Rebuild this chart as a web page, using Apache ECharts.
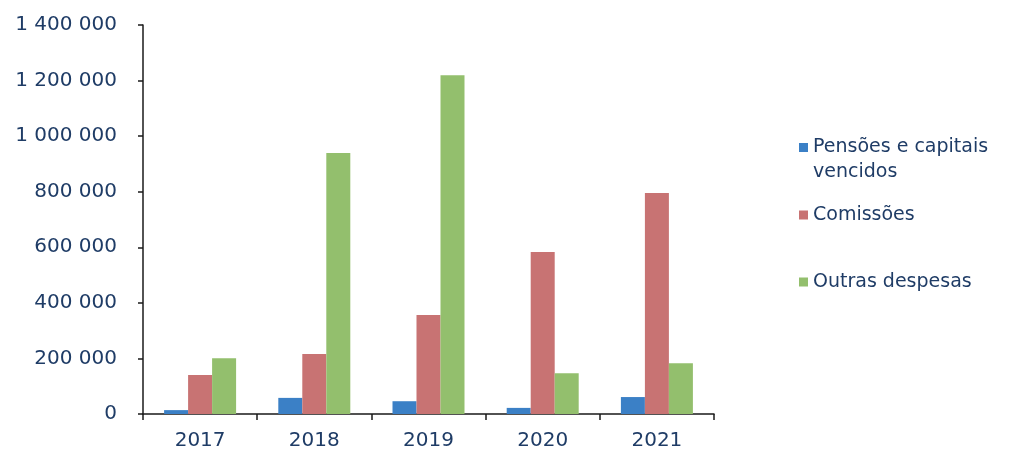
<!DOCTYPE html>
<html>
<head>
<meta charset="utf-8">
<script src="https://cdn.jsdelivr.net/npm/echarts@6/dist/echarts.min.js"></script>
<style>
  html, body { margin: 0; padding: 0; background: #fff; }
  #chart { width: 1013px; height: 453px; }
</style>
</head>
<body>
<div id="chart"></div>
<script>
// Annual expenses by type (EUR)
const years = ['2017', '2018', '2019', '2020', '2021'];
const pensoes = [14000, 58000, 46000, 22000, 61000];
const comissoes = [140000, 216000, 356000, 583000, 795000];
const outras = [201000, 939000, 1219000, 147000, 183000];

const seriesNames = ['Pensões e capitais vencidos', 'Comissões', 'Outras despesas'];
// A leading blank line keeps the marker level with the first text line
const legendLabels = ['\u00a0\nPensões e capitais\nvencidos', 'Comissões', 'Outras despesas'];
const colors = ['#3b80c6', '#c87373', '#93bf6d'];

const labelColor = '#1f3c66';
const fontFamily = '"DejaVu Sans", "Liberation Sans", Arial, sans-serif';

function spaced(v) {
  return String(v).replace(/\B(?=(\d{3})+(?!\d))/g, ' ');
}

const chart = echarts.init(document.getElementById('chart'));

const legendTops = [105, 197.5, 264.5];

chart.setOption({
  animation: false,
  color: colors,
  grid: { left: 143, right: 299, top: 25, bottom: 39 },
  legend: seriesNames.map((name, i) => ({
    data: [name],
    left: 794,
    top: legendTops[i],
    orient: 'vertical',
    icon: 'rect',
    itemWidth: 9,
    itemHeight: 9,
    formatter: () => legendLabels[i],
    textStyle: {
      color: labelColor,
      fontSize: 19,
      fontFamily: fontFamily,
      lineHeight: 25
    }
  })),
  xAxis: {
    type: 'category',
    data: years,
    axisLine: { lineStyle: { color: '#1a1a1a', width: 1.5 } },
    axisTick: { show: true, length: 6, lineStyle: { color: '#1a1a1a', width: 1.5 } },
    axisLabel: { color: labelColor, fontSize: 20, fontFamily: fontFamily, margin: 17 }
  },
  yAxis: {
    type: 'value',
    min: 0,
    max: 1400000,
    interval: 200000,
    axisLine: { show: true, lineStyle: { color: '#1a1a1a', width: 1.5 } },
    axisTick: { show: true, length: 5, lineStyle: { color: '#1a1a1a', width: 1.5 } },
    splitLine: { show: false },
    axisLabel: {
      color: labelColor,
      fontSize: 20,
      fontFamily: fontFamily,
      margin: 26,
      formatter: v => spaced(v)
    }
  },
  series: [
    { name: seriesNames[0], type: 'bar', data: pensoes, barWidth: 24, barGap: '0%' },
    { name: seriesNames[1], type: 'bar', data: comissoes, barWidth: 24, barGap: '0%' },
    { name: seriesNames[2], type: 'bar', data: outras, barWidth: 24, barGap: '0%' }
  ]
});
</script>
</body>
</html>
